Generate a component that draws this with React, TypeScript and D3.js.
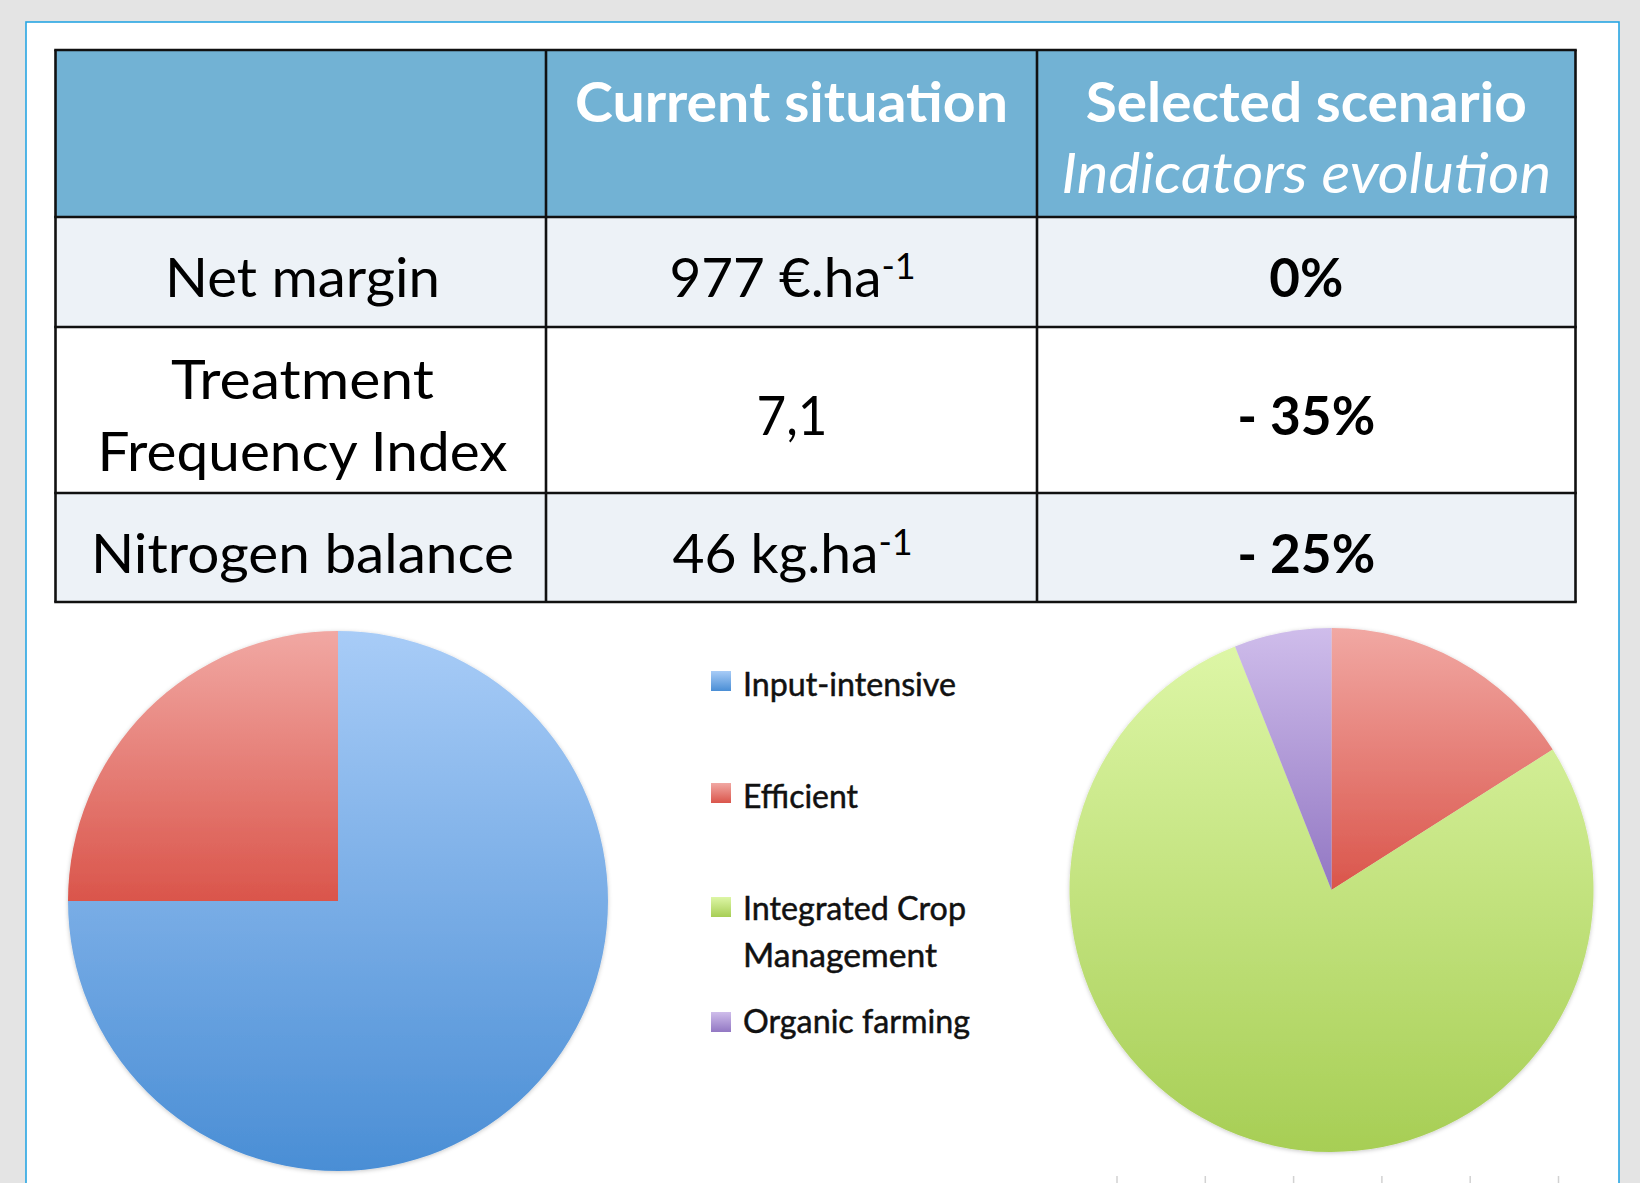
import React from 'react';
import * as d3 from 'd3';

// farming systems shown in both pies and in the legend
const categories = ['Input-intensive', 'Efficient', 'Integrated Crop Management', 'Organic farming'];
const legendLines = [['Input-intensive'], ['Efficient'], ['Integrated Crop', 'Management'], ['Organic farming']];
const currentShares = [75, 25, 0, 0];
const scenarioShares = [0, 16, 78, 6];

// indicators table
const headers = ['Current situation', 'Selected scenario'];
const headerSub = 'Indicators evolution';
const rowLabels = [['Net margin'], ['Treatment', 'Frequency Index'], ['Nitrogen balance']];
const currentValues = ['977 €.ha', '7,1', '46 kg.ha'];
const currentExponents = ['-1', '', '-1'];
const evolutions = ['0%', '- 35%', '- 25%'];

// measured text widths (px) so the substitute font keeps the original spread
const labelWidths = [[275], [263, 410], [423]];
const valueWidths = [212, 71, 206];
const evolutionWidths = [74, 138, 138];
const legendWidths = [[213], [115], [223, 194], [227]];

const gradients = [
  ['#a8ccf7', '#4a8ed5'],
  ['#f1a8a3', '#da554b'],
  ['#ddf6a6', '#a7ce55'],
  ['#cfbdeb', '#9277c3'],
];

const W = 1640;
const H = 1183;
const colX = [55.5, 546, 1037, 1575.5];
const rowY = [50, 217, 327, 493, 602];
const FONT = 'Lato, "Open Sans", sans-serif';

const pie = d3.pie<number>().sort(null).value((d) => d);

const Pie = ({ cx, cy, r, values }: { cx: number; cy: number; r: number; values: number[] }) => {
  const arc = d3.arc<d3.PieArcDatum<number>>().innerRadius(0).outerRadius(r);
  return (
    <g transform={`translate(${cx},${cy})`} filter="url(#pieShadow)">
      {pie(values)
        .filter((d) => d.value > 0)
        .map((d) => (
          <path key={d.index} d={arc(d) || ''} fill={`url(#grad${d.index})`} />
        ))}
    </g>
  );
};

export default function App() {
  const colMid = (i: number) => (colX[i] + colX[i + 1]) / 2;
  const rowMid = (i: number) => (rowY[i + 1] + rowY[i + 2]) / 2;
  const legendTop = [671, 783, 897, 1012];
  const legendBase = [696, 808, 920, 1033];
  const ticks = d3.range(6).map((i) => 1117 + i * 88.3);

  return (
    <svg
      width={W}
      height={H}
      viewBox={`0 0 ${W} ${H}`}
      style={{ position: 'absolute', left: 0, top: 0, display: 'block' }}
      fontFamily={FONT}
    >
      <defs>
        {gradients.map((g, i) => (
          <linearGradient key={i} id={`grad${i}`} x1="0" y1="0" x2="0" y2="1">
            <stop offset="0%" stopColor={g[0]} />
            <stop offset="100%" stopColor={g[1]} />
          </linearGradient>
        ))}
        <filter id="pieShadow" x="-10%" y="-10%" width="120%" height="120%">
          <feDropShadow dx="0" dy="1" stdDeviation="2" floodColor="#000" floodOpacity="0.22" />
        </filter>
      </defs>

      <rect x={0} y={0} width={W} height={H} fill="#e4e4e4" />
      <rect x={26} y={22} width={1593} height={H} fill="#ffffff" stroke="#27a6e3" strokeWidth={1.6} />

      {/* table */}
      <rect x={colX[0]} y={rowY[0]} width={colX[3] - colX[0]} height={rowY[1] - rowY[0]} fill="#72b2d4" />
      {rowLabels.map((_, i) => (
        <rect
          key={i}
          x={colX[0]}
          y={rowY[i + 1]}
          width={colX[3] - colX[0]}
          height={rowY[i + 2] - rowY[i + 1]}
          fill={i % 2 === 0 ? '#edf2f7' : '#ffffff'}
        />
      ))}
      {rowY.map((y, i) => (
        <line key={`h${i}`} x1={colX[0] - 1.3} x2={colX[3] + 1.3} y1={y} y2={y} stroke="#111" strokeWidth={2.6} />
      ))}
      {colX.map((x, i) => (
        <line key={`v${i}`} x1={x} x2={x} y1={rowY[0]} y2={rowY[4]} stroke="#111" strokeWidth={2.6} />
      ))}

      {/* header text */}
      {headers.map((h, i) => (
        <text
          key={h}
          x={colMid(i + 1)}
          y={122}
          textAnchor="middle"
          fill="#fff"
          fontWeight={700}
          fontSize={56}
          textLength={i === 0 ? 433 : 441}
          lengthAdjust="spacingAndGlyphs"
        >
          {h}
        </text>
      ))}
      <text
        x={colMid(2)}
        y={193}
        textAnchor="middle"
        fill="#fff"
        fontStyle="italic"
        fontWeight={400}
        fontSize={56}
        textLength={490}
        lengthAdjust="spacingAndGlyphs"
      >
        {headerSub}
      </text>

      {/* body text */}
      {rowLabels.map((lines, i) =>
        lines.map((t, j) => (
          <text
            key={t}
            x={302.5}
            y={rowMid(i) + 25 + (j - (lines.length - 1) / 2) * 72}
            textAnchor="middle"
            fill="#000"
            fontSize={54}
            textLength={labelWidths[i][j]}
            lengthAdjust="spacingAndGlyphs"
          >
            {t}
          </text>
        ))
      )}
      {currentValues.map((v, i) => {
        const total = valueWidths[i] + (currentExponents[i] ? 33 : 0);
        return (
          <text key={v} x={colMid(1) - total / 2 + 0.5} y={rowMid(i) + 25} fill="#000" fontSize={54}>
            <tspan textLength={valueWidths[i]} lengthAdjust="spacingAndGlyphs">
              {v}
            </tspan>
            {currentExponents[i] && (
              <tspan dy={-18} fontSize={36}>
                {currentExponents[i]}
              </tspan>
            )}
          </text>
        );
      })}
      {evolutions.map((v, i) => (
        <text
          key={v}
          x={colMid(2)}
          y={rowMid(i) + 25}
          textAnchor="middle"
          fill="#000"
          fontWeight={700}
          fontSize={54}
          textLength={evolutionWidths[i]}
          lengthAdjust="spacingAndGlyphs"
        >
          {v}
        </text>
      ))}

      {/* pies */}
      <Pie cx={338} cy={901} r={270} values={currentShares} />
      <Pie cx={1331.5} cy={890} r={262} values={scenarioShares} />

      {ticks.map((x, i) => (
        <line key={i} x1={x} x2={x} y1={1176} y2={1183} stroke="#d2d2d2" strokeWidth={1.5} />
      ))}

      {/* legend */}
      {categories.map((c, i) => (
        <g key={c}>
          <rect x={711} y={legendTop[i]} width={20} height={20} fill={`url(#grad${i})`} />
          {legendLines[i].map((t, j) => (
            <text
              key={t}
              x={743}
              y={legendBase[i] + j * 47}
              fill="#111"
              stroke="#111"
              strokeWidth={0.5}
              fontSize={33}
              textLength={legendWidths[i][j]}
              lengthAdjust="spacingAndGlyphs"
            >
              {t}
            </text>
          ))}
        </g>
      ))}
    </svg>
  );
}
